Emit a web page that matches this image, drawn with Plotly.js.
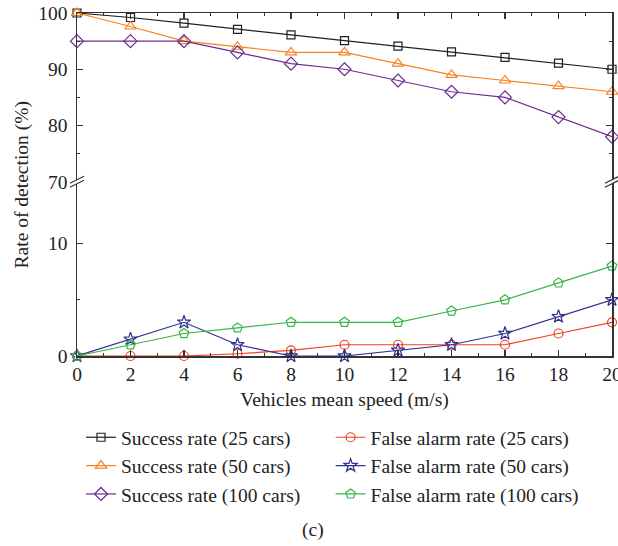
<!DOCTYPE html>
<html>
<head>
<meta charset="utf-8">
<script src="https://cdn.plot.ly/plotly-3.0.1.min.js"></script>
<style>html,body{margin:0;padding:0;background:#fff;}#chart{width:618px;height:546px;}</style>
</head>
<body>
<div id="chart"></div>
<script>
const speeds = [0, 2, 4, 6, 8, 10, 12, 14, 16, 18, 20];
const success25 = [100, 99.2, 98.2, 97.1, 96.1, 95.1, 94.1, 93.1, 92.1, 91.1, 90];
const success50 = [100, 97.6, 95, 94, 93, 93, 91, 89, 88, 87, 86];
const success100 = [95, 95, 95, 93, 91, 90, 88, 86, 85, 81.5, 78];
const falseAlarm25 = [0, 0, 0, 0.2, 0.5, 1, 1, 1, 1, 2, 3];
const falseAlarm50 = [0, 1.5, 3, 1, 0, 0, 0.5, 1, 2, 3.5, 5];
const falseAlarm100 = [0, 1, 2, 2.5, 3, 3, 3, 4, 5, 6.5, 8];
const seriesNames = ["Success rate (25 cars)", "Success rate (50 cars)", "Success rate (100 cars)",
  "False alarm rate (25 cars)", "False alarm rate (50 cars)", "False alarm rate (100 cars)"];

const FONT = "Liberation Serif, Times New Roman, serif";
const FS = 19.5;
const split = 0.508;

function tr(y, name, color, symbol, size, xa, ya, leg) {
  return {x: speeds, y: y, name: name, type: "scatter", mode: "lines+markers",
    xaxis: xa, yaxis: ya, legend: leg, cliponaxis: false,
    line: {color: color, width: 1.2},
    marker: {symbol: symbol, size: size, color: color, line: {color: color, width: 1.2}}};
}

const data = [
  tr(success25, seriesNames[0], "#231f20", "square-open", 8, "x2", "y2", "legend"),
  tr(success50, seriesNames[1], "#f7821e", "triangle-up-open", 10, "x2", "y2", "legend"),
  tr(success100, seriesNames[2], "#6b2c91", "diamond-open", 10, "x2", "y2", "legend"),
  tr(falseAlarm25, seriesNames[3], "#ef4123", "circle-open", 9, "x", "y", "legend2"),
  tr(falseAlarm50, seriesNames[4], "#2e3092", "star-open", 10, "x", "y", "legend2"),
  tr(falseAlarm100, seriesNames[5], "#39b54a", "pentagon-open", 10, "x", "y", "legend2")
];

const axCommon = {showline: true, linecolor: "#333", linewidth: 1.5, ticks: "inside",
  tickcolor: "#333", tickwidth: 1.2, ticklen: 6, showgrid: false, zeroline: false,
  ticklabeloverflow: "allow",
  tickfont: {family: FONT, size: FS, color: "#222"}};

function brk(xp) {
  return [
    {type: "path", xref: "paper", yref: "paper", xsizemode: "pixel", ysizemode: "pixel",
     xanchor: xp, yanchor: split, path: "M -6,-1 L 6,5 L 6,1 L -6,-5 Z",
     fillcolor: "#fff", line: {width: 0}, layer: "above"},
    {type: "line", xref: "paper", yref: "paper", xsizemode: "pixel", ysizemode: "pixel",
     xanchor: xp, yanchor: split, x0: -7, y0: -1.5, x1: 7, y1: 5.5, line: {color: "#333", width: 1.2}, layer: "above"},
    {type: "line", xref: "paper", yref: "paper", xsizemode: "pixel", ysizemode: "pixel",
     xanchor: xp, yanchor: split, x0: -7, y0: -5.5, x1: 7, y1: 1.5, line: {color: "#333", width: 1.2}, layer: "above"}
  ];
}

const layout = {
  width: 618, height: 546,
  margin: {l: 77, r: 6, t: 13, b: 190},
  paper_bgcolor: "#fff", plot_bgcolor: "#fff",
  font: {family: FONT, size: FS, color: "#222"},
  showlegend: true,
  xaxis: Object.assign({}, axCommon, {domain: [0, 1], anchor: "y", range: [0, 20], dtick: 2,
    minor: {dtick: 1, ticks: "inside", ticklen: 3, tickcolor: "#333"},
    title: {text: "Vehicles mean speed (m/s)", font: {family: FONT, size: FS, color: "#222"}, standoff: 8}}),
  xaxis2: Object.assign({}, axCommon, {domain: [0, 1], anchor: "y2", side: "top", matches: "x",
    range: [0, 20], dtick: 2, showticklabels: false,
    minor: {dtick: 1, ticks: "inside", ticklen: 3, tickcolor: "#333"}}),
  yaxis: Object.assign({}, axCommon, {domain: [0, split], anchor: "x", range: [0, 15.5],
    tickvals: [0, 10], mirror: "ticks", ticklabelstandoff: 4,
    minor: {tickvals: [5], ticks: "inside", ticklen: 3, tickcolor: "#333"}}),
  yaxis2: Object.assign({}, axCommon, {domain: [split, 1], anchor: "x2", range: [70, 100],
    tickvals: [70, 80, 90, 100], mirror: "ticks", ticklabelstandoff: 4,
    minor: {tickvals: [75, 85, 95], ticks: "inside", ticklen: 3, tickcolor: "#333"}}),
  legend: {x: 0.0075, xanchor: "left", y: -0.181, yanchor: "top", orientation: "v",
    font: {family: FONT, size: FS, color: "#222"}, bgcolor: "rgba(0,0,0,0)", tracegroupgap: 0},
  legend2: {x: 0.474, xanchor: "left", y: -0.181, yanchor: "top", orientation: "v",
    font: {family: FONT, size: FS, color: "#222"}, bgcolor: "rgba(0,0,0,0)", tracegroupgap: 0},
  annotations: [
    {text: "Rate of detection (%)", xref: "paper", yref: "paper", x: -0.103, y: 0.5,
     textangle: -90, showarrow: false, xanchor: "center", yanchor: "middle",
     font: {family: FONT, size: FS, color: "#222"}},
    {text: "(c)", xref: "paper", yref: "paper", x: (313 - 77) / 534.7, y: (355.7 - 530) / 342.7,
     showarrow: false, xanchor: "center", yanchor: "middle",
     font: {family: FONT, size: FS, color: "#222"}}
  ],
  shapes: [].concat(brk(0), brk(1))
};

Plotly.newPlot("chart", data, layout, {displayModeBar: false, staticPlot: true});
</script>
</body>
</html>
